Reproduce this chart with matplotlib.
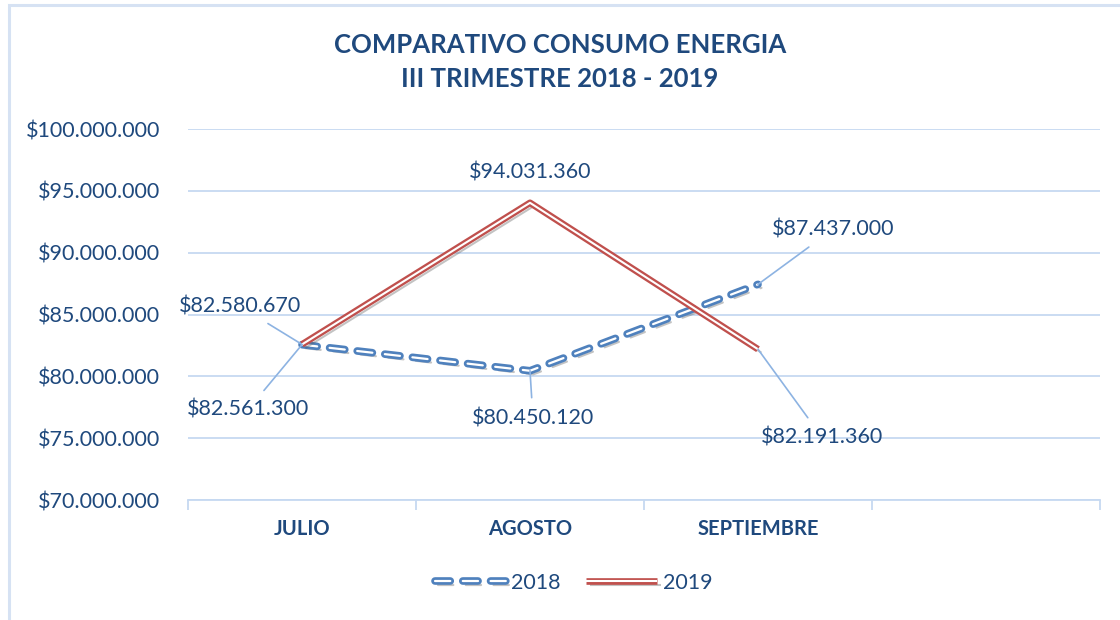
import matplotlib
matplotlib.use("Agg")
from matplotlib import pyplot as plt
from matplotlib import patheffects as pe
from matplotlib.patches import Rectangle
from matplotlib.ticker import FuncFormatter, MultipleLocator

plt.rcParams['font.family'] = ['Lato', 'DejaVu Sans']
plt.rcParams['lines.scale_dashes'] = False

meses = ["JULIO", "AGOSTO", "SEPTIEMBRE", ""]
consumo_2018 = [82561300, 80450120, 87437000]
consumo_2019 = [82580670, 94031360, 82191360]

# offsets (pixels) of the data labels
off_2018 = [(-54, -65), (3, -48), (75, 55)]
off_2019 = [(-62, 38), (0, 30), (64, -88)]

azul_txt = "#1f497d"
azul = "#4f81bd"
rojo = "#c0504d"
grid_c = "#c6d9f1"
guia = "#8db3e2"


def pesos(v, pos=None):
    return "$" + f"{int(round(v)):,}".replace(",", ".")


fig = plt.figure(figsize=(11.2, 6.2), dpi=100)
ax = fig.add_axes([188 / 1120, 1 - 500 / 620, 912 / 1120, 371 / 620])

# marco del grafico
fig.patches.append(Rectangle((8.5 / 1120, -0.1), 1.2, 1 - 4.5 / 620 + 0.1,
                             transform=fig.transFigure, fill=False,
                             edgecolor="#d6e2f3", lw=2.2))

x = list(range(len(consumo_2018)))
sombra = pe.SimpleLineShadow(offset=(2.5, -2.5), shadow_color="#555555", alpha=0.35, rho=0.3)

l18, = ax.plot(x, consumo_2018, color="white", lw=1.6, dashes=(11, 9),
               dash_capstyle="round", solid_capstyle="round", label="2018", zorder=3,
               path_effects=[sombra, pe.Stroke(linewidth=5.5, foreground=azul), pe.Normal()])
l19, = ax.plot(x, consumo_2019, color="white", lw=1.5, solid_capstyle="butt",
               label="2019", zorder=3,
               path_effects=[sombra, pe.Stroke(linewidth=4.8, foreground=rojo), pe.Normal()])

# etiquetas de datos
for xi, v, o in zip(x, consumo_2018, off_2018):
    ax.annotate(pesos(v), (xi, v), xytext=o, textcoords="offset pixels",
                ha="center", va="center", fontsize=15.5, color=azul_txt,
                arrowprops=dict(arrowstyle="-", color=guia, lw=1.2, shrinkA=6, shrinkB=0))
for xi, v, o in zip(x, consumo_2019, off_2019):
    ap = dict(arrowstyle="-", color=guia, lw=1.2, shrinkA=6, shrinkB=0)
    if o[0] == 0:
        ap = None
    ax.annotate(pesos(v), (xi, v), xytext=o, textcoords="offset pixels",
                ha="center", va="center", fontsize=15.5, color=azul_txt, arrowprops=ap)

ax.set_ylim(70000000, 100000000)
ax.set_xlim(-0.5, 3.5)
ax.yaxis.set_major_locator(MultipleLocator(5000000))
ax.yaxis.set_major_formatter(FuncFormatter(pesos))
ax.grid(axis="y", color=grid_c, lw=1.3)
ax.set_axisbelow(True)

ax.set_xticks(range(len(meses)))
ax.set_xticklabels(meses, fontsize=14.5, fontweight="bold", color=azul_txt)
ax.set_xticks([i - 0.5 for i in range(len(meses) + 1)], minor=True)
ax.tick_params(axis="x", which="major", length=0, pad=14)
ax.tick_params(axis="x", which="minor", length=7, color=grid_c, width=1.3)
ax.tick_params(axis="y", length=0, labelsize=15.5, labelcolor=azul_txt, pad=20)

for s in ["top", "right", "left"]:
    ax.spines[s].set_visible(False)
ax.spines["bottom"].set_color(grid_c)
ax.spines["bottom"].set_linewidth(1.3)

fig.text(0.5, 1 - 45 / 620, "COMPARATIVO CONSUMO ENERGIA", ha="center", va="center",
         fontsize=18.5, fontweight="bold", color=azul_txt)
fig.text(0.5, 1 - 79 / 620, "III TRIMESTRE 2018 - 2019", ha="center", va="center",
         fontsize=18.5, fontweight="bold", color=azul_txt)

fig.legend(handles=[l18, l19], loc="center", bbox_to_anchor=(0.512, 1 - 583 / 620),
           ncol=2, frameon=False, fontsize=15.5, labelcolor=azul_txt,
           handlelength=3.3, handletextpad=0.25, columnspacing=1.2)

fig.savefig("out.png", dpi=100)
